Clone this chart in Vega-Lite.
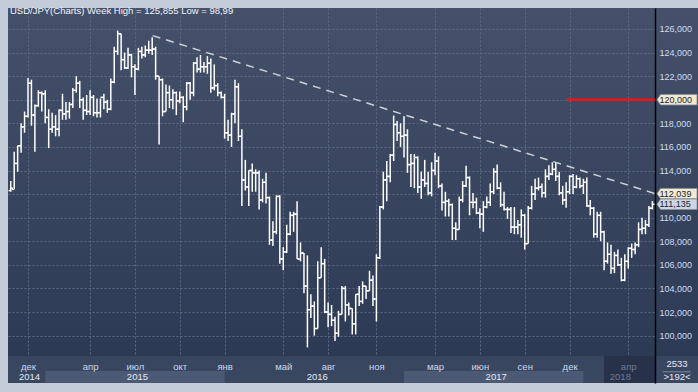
{
"$schema": "https://vega.github.io/schema/vega-lite/v6.json",
"width": 690, "height": 375, "autosize": "none",
"padding": {"left": 8, "top": 8, "right": 0, "bottom": 9},
"background": "#c3ccd8",
"title": {"text": "USD/JPY(Charts) Week High = 125,855 Low = 98,99", "anchor": "start", "frame": "group", "orient": "top", "offset": -12, "baseline": "middle", "dx": 2, "font": "Liberation Sans", "fontSize": 9.5, "fontWeight": "normal", "color": "#f2f5fa"},
"config": {
  "view": {"stroke": null, "fill": {"x1": 0, "y1": 0, "x2": 0, "y2": 1, "gradient": "linear", "stops": [{"offset": 0, "color": "#45516a"}, {"offset": 1, "color": "#2b3853"}]}},
  "locale": {"number": {"decimal": ",", "thousands": " ", "grouping": [3], "currency": ["", ""]}},
  "axis": {"labelFont": "Liberation Sans"},
  "text": {"font": "Liberation Sans"}
},
"datasets": {
"w": [
{"d":"2014-10-27","o":112.3,"h":113.1,"l":112.2,"c":112.5},
{"d":"2014-11-03","o":112.4,"h":115.6,"l":112.4,"c":114.6},
{"d":"2014-11-10","o":114.6,"h":116.1,"l":113.9,"c":116.1},
{"d":"2014-11-17","o":116.1,"h":118.0,"l":115.5,"c":117.7},
{"d":"2014-11-24","o":117.7,"h":119.0,"l":117.2,"c":118.6},
{"d":"2014-12-01","o":118.6,"h":121.85,"l":118.5,"c":121.4},
{"d":"2014-12-08","o":121.4,"h":121.7,"l":117.8,"c":118.7},
{"d":"2014-12-15","o":118.7,"h":119.6,"l":115.6,"c":119.5},
{"d":"2014-12-22","o":119.5,"h":120.8,"l":119.4,"c":120.6},
{"d":"2014-12-29","o":120.6,"h":120.7,"l":119.0,"c":120.5},
{"d":"2015-01-05","o":120.5,"h":120.8,"l":118.0,"c":118.5},
{"d":"2015-01-12","o":118.5,"h":119.2,"l":115.9,"c":117.5},
{"d":"2015-01-19","o":117.5,"h":118.9,"l":117.2,"c":117.7},
{"d":"2015-01-26","o":117.7,"h":118.7,"l":116.9,"c":117.5},
{"d":"2015-02-02","o":117.5,"h":119.2,"l":116.9,"c":119.1},
{"d":"2015-02-09","o":119.1,"h":120.5,"l":118.3,"c":118.8},
{"d":"2015-02-16","o":118.8,"h":119.8,"l":118.3,"c":119.0},
{"d":"2015-02-23","o":119.0,"h":119.8,"l":118.4,"c":119.6},
{"d":"2015-03-02","o":119.6,"h":121.0,"l":119.3,"c":120.8},
{"d":"2015-03-09","o":120.8,"h":122.0,"l":120.6,"c":121.4},
{"d":"2015-03-16","o":121.4,"h":121.6,"l":119.3,"c":120.0},
{"d":"2015-03-23","o":120.0,"h":120.2,"l":118.3,"c":119.1},
{"d":"2015-03-30","o":119.1,"h":120.4,"l":118.7,"c":119.0},
{"d":"2015-04-06","o":119.0,"h":120.8,"l":118.7,"c":120.2},
{"d":"2015-04-13","o":120.2,"h":120.4,"l":118.6,"c":118.9},
{"d":"2015-04-20","o":118.9,"h":120.1,"l":118.5,"c":118.9},
{"d":"2015-04-27","o":118.9,"h":120.1,"l":118.5,"c":120.2},
{"d":"2015-05-04","o":120.2,"h":120.5,"l":119.2,"c":119.8},
{"d":"2015-05-11","o":119.8,"h":120.0,"l":118.9,"c":119.2},
{"d":"2015-05-18","o":119.2,"h":121.8,"l":119.1,"c":121.5},
{"d":"2015-05-25","o":121.5,"h":124.5,"l":121.4,"c":124.1},
{"d":"2015-06-01","o":124.1,"h":125.86,"l":123.8,"c":125.6},
{"d":"2015-06-08","o":125.6,"h":125.6,"l":122.5,"c":123.4},
{"d":"2015-06-15","o":123.4,"h":124.0,"l":122.6,"c":122.7},
{"d":"2015-06-22","o":122.7,"h":124.4,"l":122.6,"c":123.8},
{"d":"2015-06-29","o":123.8,"h":123.9,"l":121.9,"c":122.8},
{"d":"2015-07-06","o":122.8,"h":123.0,"l":120.4,"c":122.6},
{"d":"2015-07-13","o":122.6,"h":124.4,"l":122.5,"c":124.1},
{"d":"2015-07-20","o":124.1,"h":124.5,"l":123.5,"c":123.8},
{"d":"2015-07-27","o":123.8,"h":124.6,"l":123.6,"c":124.2},
{"d":"2015-08-03","o":124.2,"h":125.0,"l":123.9,"c":124.2},
{"d":"2015-08-10","o":124.2,"h":125.3,"l":123.8,"c":124.3},
{"d":"2015-08-17","o":124.3,"h":124.5,"l":121.7,"c":122.0},
{"d":"2015-08-24","o":122.0,"h":122.0,"l":116.2,"c":121.7},
{"d":"2015-08-31","o":121.7,"h":121.8,"l":118.6,"c":119.0},
{"d":"2015-09-07","o":119.0,"h":121.3,"l":119.0,"c":120.6},
{"d":"2015-09-14","o":120.6,"h":121.2,"l":119.3,"c":120.0},
{"d":"2015-09-21","o":120.0,"h":120.9,"l":119.2,"c":120.6},
{"d":"2015-09-28","o":120.6,"h":120.7,"l":118.7,"c":119.9},
{"d":"2015-10-05","o":119.9,"h":120.7,"l":119.7,"c":120.2},
{"d":"2015-10-12","o":120.2,"h":120.3,"l":118.1,"c":119.4},
{"d":"2015-10-19","o":119.4,"h":121.5,"l":119.1,"c":121.4},
{"d":"2015-10-26","o":121.4,"h":121.5,"l":120.0,"c":120.6},
{"d":"2015-11-02","o":120.6,"h":123.2,"l":120.3,"c":123.1},
{"d":"2015-11-09","o":123.1,"h":123.6,"l":122.3,"c":122.6},
{"d":"2015-11-16","o":122.6,"h":123.8,"l":122.3,"c":122.8},
{"d":"2015-11-23","o":122.8,"h":123.2,"l":122.3,"c":122.8},
{"d":"2015-11-30","o":122.8,"h":123.7,"l":122.2,"c":123.1},
{"d":"2015-12-07","o":123.1,"h":123.5,"l":120.6,"c":121.0},
{"d":"2015-12-14","o":121.0,"h":123.0,"l":120.8,"c":121.2},
{"d":"2015-12-21","o":121.2,"h":121.4,"l":120.3,"c":120.6},
{"d":"2015-12-28","o":120.6,"h":120.7,"l":120.1,"c":120.2},
{"d":"2016-01-04","o":120.2,"h":120.5,"l":116.7,"c":117.2},
{"d":"2016-01-11","o":117.2,"h":118.3,"l":116.5,"c":117.0},
{"d":"2016-01-18","o":117.0,"h":118.9,"l":116.0,"c":118.8},
{"d":"2016-01-25","o":118.8,"h":121.7,"l":118.0,"c":121.1},
{"d":"2016-02-01","o":121.1,"h":121.4,"l":116.5,"c":116.9},
{"d":"2016-02-08","o":116.9,"h":117.5,"l":111.0,"c":113.2},
{"d":"2016-02-15","o":113.2,"h":114.9,"l":112.3,"c":112.6},
{"d":"2016-02-22","o":112.6,"h":114.0,"l":111.0,"c":114.0},
{"d":"2016-02-29","o":114.0,"h":114.6,"l":112.2,"c":113.8},
{"d":"2016-03-07","o":113.8,"h":114.1,"l":112.2,"c":113.8},
{"d":"2016-03-14","o":113.8,"h":114.0,"l":110.7,"c":111.5},
{"d":"2016-03-21","o":111.5,"h":113.3,"l":111.3,"c":113.0},
{"d":"2016-03-28","o":113.0,"h":113.8,"l":111.2,"c":111.7},
{"d":"2016-04-04","o":111.7,"h":111.8,"l":107.7,"c":108.1},
{"d":"2016-04-11","o":108.1,"h":109.7,"l":107.6,"c":108.8},
{"d":"2016-04-18","o":108.8,"h":111.9,"l":108.6,"c":111.8},
{"d":"2016-04-25","o":111.8,"h":111.9,"l":106.1,"c":106.5},
{"d":"2016-05-02","o":106.5,"h":107.5,"l":105.55,"c":107.1},
{"d":"2016-05-09","o":107.1,"h":109.4,"l":107.0,"c":108.6},
{"d":"2016-05-16","o":108.6,"h":110.5,"l":108.5,"c":110.2},
{"d":"2016-05-23","o":110.2,"h":110.5,"l":108.8,"c":110.3},
{"d":"2016-05-30","o":110.3,"h":111.4,"l":106.5,"c":106.5},
{"d":"2016-06-06","o":106.5,"h":107.9,"l":106.3,"c":107.0},
{"d":"2016-06-13","o":107.0,"h":107.0,"l":103.6,"c":104.2},
{"d":"2016-06-20","o":104.2,"h":106.8,"l":99.0,"c":102.2},
{"d":"2016-06-27","o":102.2,"h":103.5,"l":101.5,"c":102.5},
{"d":"2016-07-04","o":102.5,"h":102.9,"l":100.0,"c":100.6},
{"d":"2016-07-11","o":100.6,"h":106.3,"l":100.6,"c":104.9},
{"d":"2016-07-18","o":104.9,"h":107.5,"l":104.9,"c":106.1},
{"d":"2016-07-25","o":106.1,"h":106.5,"l":101.9,"c":102.0},
{"d":"2016-08-01","o":102.0,"h":102.8,"l":100.7,"c":101.8},
{"d":"2016-08-08","o":101.8,"h":102.6,"l":100.8,"c":101.3},
{"d":"2016-08-15","o":101.3,"h":101.6,"l":99.55,"c":100.2},
{"d":"2016-08-22","o":100.2,"h":102.1,"l":99.9,"c":101.8},
{"d":"2016-08-29","o":101.8,"h":104.2,"l":101.8,"c":104.0},
{"d":"2016-09-05","o":104.0,"h":104.2,"l":101.2,"c":102.6},
{"d":"2016-09-12","o":102.6,"h":102.8,"l":101.7,"c":102.3},
{"d":"2016-09-19","o":102.3,"h":102.3,"l":100.1,"c":101.0},
{"d":"2016-09-26","o":101.0,"h":103.5,"l":100.1,"c":103.5},
{"d":"2016-10-03","o":103.5,"h":104.2,"l":102.5,"c":102.9},
{"d":"2016-10-10","o":102.9,"h":104.6,"l":102.7,"c":104.2},
{"d":"2016-10-17","o":104.2,"h":104.2,"l":103.1,"c":103.8},
{"d":"2016-10-24","o":103.8,"h":105.5,"l":103.8,"c":104.7},
{"d":"2016-10-31","o":104.7,"h":105.1,"l":102.5,"c":103.1},
{"d":"2016-11-07","o":103.1,"h":106.9,"l":101.2,"c":106.6},
{"d":"2016-11-14","o":106.6,"h":111.0,"l":106.5,"c":110.9},
{"d":"2016-11-21","o":110.9,"h":113.9,"l":110.7,"c":113.2},
{"d":"2016-11-28","o":113.2,"h":114.8,"l":111.4,"c":113.5},
{"d":"2016-12-05","o":113.5,"h":115.4,"l":113.0,"c":115.3},
{"d":"2016-12-12","o":115.3,"h":118.66,"l":114.8,"c":117.9},
{"d":"2016-12-19","o":117.9,"h":118.2,"l":116.5,"c":117.2},
{"d":"2016-12-26","o":117.2,"h":118.0,"l":116.0,"c":116.9},
{"d":"2017-01-02","o":116.9,"h":118.6,"l":115.1,"c":117.0},
{"d":"2017-01-09","o":117.0,"h":117.5,"l":113.8,"c":114.5},
{"d":"2017-01-16","o":114.5,"h":115.4,"l":112.6,"c":114.6},
{"d":"2017-01-23","o":114.6,"h":115.4,"l":112.5,"c":115.1},
{"d":"2017-01-30","o":115.1,"h":115.2,"l":112.1,"c":112.6},
{"d":"2017-02-06","o":112.6,"h":113.9,"l":111.6,"c":113.2},
{"d":"2017-02-13","o":113.2,"h":114.9,"l":112.6,"c":112.9},
{"d":"2017-02-20","o":112.9,"h":113.9,"l":111.9,"c":112.1},
{"d":"2017-02-27","o":112.1,"h":114.7,"l":111.8,"c":114.0},
{"d":"2017-03-06","o":114.0,"h":115.5,"l":113.6,"c":114.8},
{"d":"2017-03-13","o":114.8,"h":115.2,"l":112.5,"c":112.7},
{"d":"2017-03-20","o":112.7,"h":112.9,"l":110.6,"c":111.3},
{"d":"2017-03-27","o":111.3,"h":112.2,"l":110.1,"c":111.4},
{"d":"2017-04-03","o":111.4,"h":111.6,"l":110.1,"c":111.1},
{"d":"2017-04-10","o":111.1,"h":111.2,"l":108.1,"c":109.1},
{"d":"2017-04-17","o":109.1,"h":109.6,"l":108.1,"c":109.0},
{"d":"2017-04-24","o":109.0,"h":111.8,"l":109.0,"c":111.5},
{"d":"2017-05-01","o":111.5,"h":113.1,"l":111.3,"c":112.7},
{"d":"2017-05-08","o":112.7,"h":114.4,"l":112.6,"c":113.4},
{"d":"2017-05-15","o":113.4,"h":113.5,"l":110.2,"c":111.3},
{"d":"2017-05-22","o":111.3,"h":112.1,"l":110.8,"c":111.3},
{"d":"2017-05-29","o":111.3,"h":111.7,"l":110.3,"c":110.4},
{"d":"2017-06-05","o":110.4,"h":110.8,"l":109.1,"c":110.3},
{"d":"2017-06-12","o":110.3,"h":111.4,"l":108.8,"c":110.9},
{"d":"2017-06-19","o":110.9,"h":111.8,"l":110.8,"c":111.3},
{"d":"2017-06-26","o":111.3,"h":112.9,"l":111.0,"c":112.2},
{"d":"2017-07-03","o":112.2,"h":114.2,"l":112.0,"c":113.9},
{"d":"2017-07-10","o":113.9,"h":114.5,"l":112.4,"c":112.5},
{"d":"2017-07-17","o":112.5,"h":113.0,"l":110.9,"c":111.1},
{"d":"2017-07-24","o":111.1,"h":112.2,"l":110.6,"c":110.7},
{"d":"2017-07-31","o":110.7,"h":110.9,"l":109.9,"c":110.7},
{"d":"2017-08-07","o":110.7,"h":110.9,"l":108.7,"c":109.2},
{"d":"2017-08-14","o":109.2,"h":110.9,"l":108.6,"c":109.2},
{"d":"2017-08-21","o":109.2,"h":109.8,"l":108.6,"c":109.4},
{"d":"2017-08-28","o":109.4,"h":110.7,"l":108.3,"c":110.2},
{"d":"2017-09-04","o":110.2,"h":110.3,"l":107.3,"c":107.8},
{"d":"2017-09-11","o":107.8,"h":111.0,"l":107.8,"c":110.8},
{"d":"2017-09-18","o":110.8,"h":112.7,"l":110.7,"c":112.0},
{"d":"2017-09-25","o":112.0,"h":113.3,"l":111.5,"c":112.5},
{"d":"2017-10-02","o":112.5,"h":113.4,"l":112.3,"c":112.6},
{"d":"2017-10-09","o":112.6,"h":112.9,"l":111.7,"c":112.1},
{"d":"2017-10-16","o":112.1,"h":114.1,"l":111.7,"c":113.5},
{"d":"2017-10-23","o":113.5,"h":114.45,"l":113.2,"c":113.7},
{"d":"2017-10-30","o":113.7,"h":114.7,"l":113.6,"c":114.1},
{"d":"2017-11-06","o":114.1,"h":114.7,"l":113.1,"c":113.5},
{"d":"2017-11-13","o":113.5,"h":113.9,"l":111.9,"c":112.1},
{"d":"2017-11-20","o":112.1,"h":112.7,"l":111.1,"c":111.5},
{"d":"2017-11-27","o":111.5,"h":113.0,"l":110.85,"c":112.2},
{"d":"2017-12-04","o":112.2,"h":113.6,"l":112.0,"c":113.5},
{"d":"2017-12-11","o":113.5,"h":113.7,"l":112.0,"c":112.6},
{"d":"2017-12-18","o":112.6,"h":113.6,"l":112.5,"c":113.3},
{"d":"2017-12-25","o":113.3,"h":113.4,"l":112.5,"c":112.7},
{"d":"2018-01-01","o":112.7,"h":113.3,"l":112.0,"c":113.0},
{"d":"2018-01-08","o":113.0,"h":113.4,"l":110.9,"c":111.0},
{"d":"2018-01-15","o":111.0,"h":111.5,"l":110.2,"c":110.8},
{"d":"2018-01-22","o":110.8,"h":110.9,"l":108.3,"c":108.6},
{"d":"2018-01-29","o":108.6,"h":110.5,"l":108.3,"c":110.2},
{"d":"2018-02-05","o":110.2,"h":110.5,"l":108.0,"c":108.8},
{"d":"2018-02-12","o":108.8,"h":108.9,"l":105.55,"c":106.3},
{"d":"2018-02-19","o":106.3,"h":107.9,"l":106.1,"c":106.9},
{"d":"2018-02-26","o":106.9,"h":107.7,"l":105.25,"c":105.7},
{"d":"2018-03-05","o":105.7,"h":107.1,"l":105.3,"c":106.8},
{"d":"2018-03-12","o":106.8,"h":107.3,"l":105.9,"c":106.0},
{"d":"2018-03-19","o":106.0,"h":106.6,"l":104.6,"c":104.7},
{"d":"2018-03-26","o":104.7,"h":106.9,"l":104.6,"c":106.3},
{"d":"2018-04-02","o":106.3,"h":107.5,"l":105.7,"c":107.4},
{"d":"2018-04-09","o":107.4,"h":107.8,"l":106.6,"c":107.3},
{"d":"2018-04-16","o":107.3,"h":107.9,"l":106.9,"c":107.7},
{"d":"2018-04-23","o":107.7,"h":109.6,"l":107.5,"c":109.0},
{"d":"2018-04-30","o":109.0,"h":110.0,"l":108.6,"c":109.1},
{"d":"2018-05-07","o":109.1,"h":109.8,"l":108.6,"c":109.4},
{"d":"2018-05-14","o":109.4,"h":111.0,"l":109.2,"c":110.8},
{"d":"2018-05-21","o":110.8,"h":111.4,"l":110.7,"c":111.135}
],
"years": [{"s":"2015-01-05","e":"2016-01-04"},{"s":"2017-01-02","e":"2018-01-01"}],
"trend": [{"d":"2015-08-11","v":125.44},{"d":"2018-05-26T10:00:00Z","v":112.039}],
"level": [{"d1":"2017-11-28","d2":"2018-05-26T10:00:00Z","v":120}],
"tags": [{"v":120,"k":"level"},{"v":112.039,"k":"trend"},{"v":111.135,"k":"last"}]
},
"layer": [
{
 "data": {"values": [{}]},
 "mark": {"type": "rect", "fill": "#394660"},
 "encoding": {
  "x": {"datum": {"year":2014,"month":10,"date":21,"hours":10,"utc":true}, "type": "temporal",
        "scale": {"type": "utc", "nice": false, "domain": [{"year":2014,"month":10,"date":21,"hours":10,"utc":true},{"year":2018,"month":8,"date":21,"hours":14,"utc":true}]},
        "axis": {"orient": "bottom", "grid": true, "gridColor": "#5c6a85", "gridDash": [2,2], "gridWidth": 1, "labels": false, "ticks": false, "domain": false, "title": null, "zindex": 0,
                 "values": [{"year":2014,"month":12,"date":1,"utc":true},{"year":2015,"month":4,"date":6,"utc":true},{"year":2015,"month":7,"date":6,"utc":true},{"year":2015,"month":10,"date":5,"utc":true},{"year":2016,"month":1,"date":4,"utc":true},{"year":2016,"month":5,"date":2,"utc":true},{"year":2016,"month":8,"date":1,"utc":true},{"year":2016,"month":11,"date":7,"utc":true},{"year":2017,"month":3,"date":6,"utc":true},{"year":2017,"month":6,"date":5,"utc":true},{"year":2017,"month":9,"date":4,"utc":true},{"year":2017,"month":12,"date":4,"utc":true},{"year":2018,"month":4,"date":2,"utc":true}]}},
  "x2": {"datum": {"year":2018,"month":8,"date":21,"hours":14,"utc":true}},
  "y": {"datum": 98.26, "type": "quantitative", "scale": {"domain": [95.98, 127.78], "nice": false, "zero": false},
        "axis": {"orient": "right", "grid": true, "gridColor": "#5c6a85", "gridDash": [2,2], "gridWidth": 1, "labels": false, "ticks": false, "domain": false, "title": null, "zindex": 0,
                 "values": [100,102,104,106,108,110,112,114,116,118,120,122,124,126]}},
  "y2": {"datum": 95.98}
 }
},
{
 "data": {"values": [{}]},
 "mark": {"type": "rect", "fill": {"x1": 0, "y1": 0, "x2": 0, "y2": 1, "gradient": "linear", "stops": [{"offset": 0, "color": "#45516a"}, {"offset": 1, "color": "#2d3a55"}]}},
 "encoding": {
  "x": {"datum": {"year":2018,"month":5,"date":26,"hours":10,"utc":true}, "type": "temporal", "axis": null},
  "x2": {"datum": {"year":2018,"month":8,"date":21,"hours":14,"utc":true}},
  "y": {"datum": 127.78, "type": "quantitative", "axis": null},
  "y2": {"datum": 98.26}
 }
},
{
 "data": {"name": "years"},
 "mark": {"type": "rect", "fill": "#4b5974"},
 "encoding": {
  "x": {"field": "s", "type": "temporal", "axis": null},
  "x2": {"field": "e"},
  "y": {"datum": 96.99, "type": "quantitative", "axis": null},
  "y2": {"datum": 95.98}
 }
},
{
 "data": {"values": [{}]},
 "mark": {"type": "rect", "fill": "#27314a"},
 "encoding": {
  "x": {"datum": {"year":2018,"month":2,"date":11,"hours":19,"utc":true}, "type": "temporal", "axis": null},
  "x2": {"datum": {"year":2018,"month":5,"date":26,"hours":10,"utc":true}},
  "y": {"datum": 98.26, "type": "quantitative", "axis": null},
  "y2": {"datum": 95.98}
 }
},
{
 "data": {"name": "w"},
 "mark": {"type": "rule", "color": "#ffffff", "strokeWidth": 1.5},
 "encoding": {
  "x": {"field": "d", "type": "temporal",
        "axis": {"orient": "bottom", "offset": -17, "grid": false, "ticks": false, "domain": false, "title": null, "zindex": 1,
                 "labelBaseline": "middle", "labelPadding": 0, "labelFontSize": 9.5, "labelOverlap": false, "labelFlush": false, "labelBound": false,
                 "labelColor": {"condition": {"test": "utcyear(datum.value) >= 2018", "value": "#6f7b92"}, "value": "#c9d8ee"},
                 "labelExpr": "['янв','фев','мар','апр','май','июн','июл','авг','сен','окт','ноя','дек'][utcmonth(datum.value)]",
                 "values": [{"year":2014,"month":12,"date":1,"utc":true},{"year":2015,"month":4,"date":6,"utc":true},{"year":2015,"month":7,"date":6,"utc":true},{"year":2015,"month":10,"date":5,"utc":true},{"year":2016,"month":1,"date":4,"utc":true},{"year":2016,"month":5,"date":2,"utc":true},{"year":2016,"month":8,"date":1,"utc":true},{"year":2016,"month":11,"date":7,"utc":true},{"year":2017,"month":3,"date":6,"utc":true},{"year":2017,"month":6,"date":5,"utc":true},{"year":2017,"month":9,"date":4,"utc":true},{"year":2017,"month":12,"date":4,"utc":true},{"year":2018,"month":4,"date":2,"utc":true}]}},
  "y": {"field": "l", "type": "quantitative",
        "axis": {"orient": "right", "offset": -43, "grid": false, "ticks": false, "domain": true, "domainColor": "#000000", "domainWidth": 1.5, "title": null, "zindex": 1,
                 "labelAlign": "left", "labelBaseline": "middle", "labelPadding": 4, "labelFontSize": 9, "labelColor": "#cfdcf2", "format": ".3f", "labelOverlap": false, "labelBound": false, "labelFlush": false,
                 "values": [100,102,104,106,108,110,114,116,118,122,124,126]}},
  "y2": {"field": "h"}
 }
},
{
 "data": {"name": "w"},
 "mark": {"type": "rule", "color": "#ffffff", "strokeWidth": 1.5, "xOffset": -2.2, "x2Offset": 0},
 "encoding": {
  "x": {"field": "d", "type": "temporal",
        "axis": {"orient": "bottom", "offset": -7, "grid": false, "ticks": false, "domain": false, "title": null, "zindex": 1,
                 "labelBaseline": "middle", "labelPadding": 0, "labelFontSize": 9.5, "labelOverlap": false, "labelFlush": false, "labelBound": false,
                 "labelColor": {"condition": {"test": "utcyear(datum.value) >= 2018", "value": "#6f7b92"}, "value": "#e3eaf5"},
                 "labelExpr": "'' + utcyear(datum.value)",
                 "values": [{"year":2014,"month":12,"date":3,"utc":true},{"year":2015,"month":7,"date":10,"utc":true},{"year":2016,"month":7,"date":9,"utc":true},{"year":2017,"month":7,"date":7,"utc":true},{"year":2018,"month":3,"date":16,"utc":true}]}},
  "x2": {"field": "d"},
  "y": {"field": "o", "type": "quantitative", "axis": null}
 }
},
{
 "data": {"name": "w"},
 "mark": {"type": "rule", "color": "#ffffff", "strokeWidth": 1.5, "xOffset": 0, "x2Offset": 2.2},
 "encoding": {
  "x": {"field": "d", "type": "temporal", "axis": null},
  "x2": {"field": "d"},
  "y": {"field": "c", "type": "quantitative", "axis": null}
 }
},
{
 "data": {"name": "trend"},
 "mark": {"type": "line", "color": "#cdd0d6", "strokeWidth": 1.5, "strokeDash": [8, 6]},
 "encoding": {
  "x": {"field": "d", "type": "temporal", "axis": null},
  "y": {"field": "v", "type": "quantitative", "axis": null}
 }
},
{
 "data": {"name": "level"},
 "mark": {"type": "rule", "color": "#ff1010", "strokeWidth": 2.5},
 "encoding": {
  "x": {"field": "d1", "type": "temporal", "axis": null},
  "x2": {"field": "d2"},
  "y": {"field": "v", "type": "quantitative", "axis": null}
 }
},
{
 "data": {"name": "tags"},
 "mark": {"type": "point", "filled": true, "opacity": 1, "size": 1600, "shape": "M-1,0L-0.82,-0.26L1,-0.26L1,0.26L-0.82,0.26Z", "stroke": "#8a8f99", "strokeWidth": 0.8},
 "encoding": {
  "x": {"datum": {"year":2018,"month":7,"date":10,"utc":true}, "type": "temporal", "axis": null},
  "y": {"field": "v", "type": "quantitative", "axis": null},
  "fill": {"field": "k", "type": "nominal", "scale": {"domain": ["level","trend","last"], "range": ["#f2ead0","#f2ead0","#cdd5e0"]}, "legend": null}
 }
},
{
 "data": {"name": "tags"},
 "mark": {"type": "text", "align": "left", "baseline": "middle", "fontSize": 9, "color": "#1a2436"},
 "encoding": {
  "x": {"datum": {"year":2018,"month":6,"date":4,"hours":12,"utc":true}, "type": "temporal", "axis": null},
  "y": {"field": "v", "type": "quantitative", "axis": null},
  "text": {"field": "v", "type": "quantitative", "format": ".3f"}
 }
},
{
 "data": {"values": [{}]},
 "mark": {"type": "text", "text": "2533", "align": "center", "baseline": "middle", "fontSize": 9.5, "color": "#e6ecf6"},
 "encoding": {
  "x": {"datum": {"year":2018,"month":7,"date":10,"utc":true}, "type": "temporal", "axis": null},
  "y": {"datum": 97.58, "type": "quantitative", "axis": null}
 }
},
{
 "data": {"values": [{}]},
 "mark": {"type": "text", "text": ">192<", "align": "center", "baseline": "middle", "fontSize": 9.5, "color": "#e6ecf6"},
 "encoding": {
  "x": {"datum": {"year":2018,"month":7,"date":10,"utc":true}, "type": "temporal", "axis": null},
  "y": {"datum": 96.48, "type": "quantitative", "axis": null}
 }
},
{
 "data": {"values": [{}]},
 "mark": {"type": "rule", "color": "#7d8aa2", "strokeWidth": 1},
 "encoding": {
  "x": {"datum": {"year":2018,"month":6,"date":11,"utc":true}, "type": "temporal", "axis": null},
  "x2": {"datum": {"year":2018,"month":8,"date":7,"utc":true}},
  "y": {"datum": 96.93, "type": "quantitative", "axis": null}
 }
}
],
"resolve": {"axis": {"x": "independent", "y": "independent"}}
}
